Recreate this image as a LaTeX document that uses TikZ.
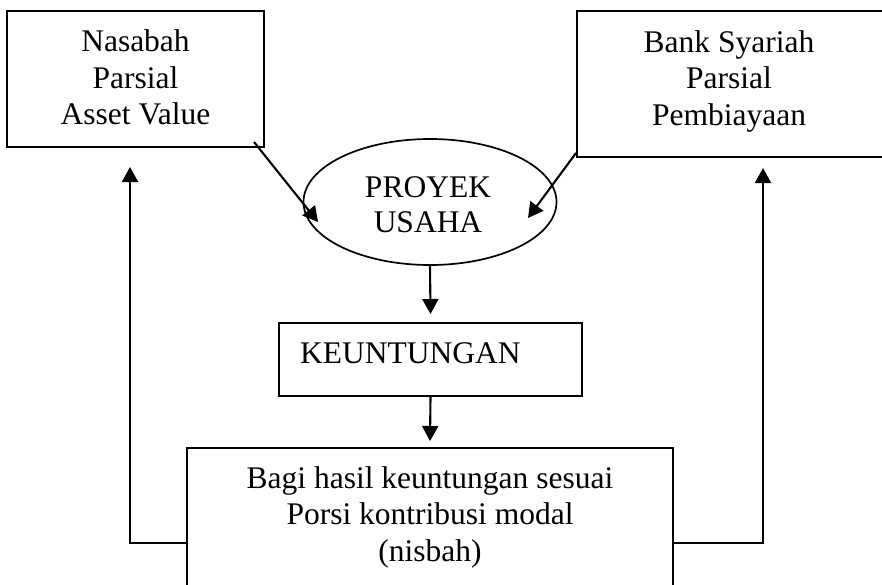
\documentclass[tikz,border=0pt]{standalone}
\usepackage{fontspec}
\setmainfont{Liberation Serif}
\usetikzlibrary{arrows.meta,shapes.geometric,calc}
\tikzset{
  boxnode/.style={draw, line width=2pt, rectangle, inner sep=0pt},
  txt/.style={align=center, inner sep=0pt, font=\fontsize{31.5}{36.5}\selectfont},
  arr/.style={line width=2.1pt, -{Triangle[length=15pt,width=16pt]}},
}
\begin{document}
\begin{tikzpicture}[x=1pt,y=-1pt]
\useasboundingbox (0,0) rectangle (882,584);
\clip (0,0) rectangle (882,584);
% boxes
\node[boxnode, minimum width=257pt, minimum height=136pt] (nas) at (135.5,79) {};
\node[txt] (nast) at (135.5,77.8) {Nasabah\\Parsial\\Asset Value};
\node[boxnode, minimum width=313pt, minimum height=146pt] (bank) at (733.5,84) {};
\node[txt] (bankt) at (729,81.2) {Bank Syariah\\Parsial\\Pembiayaan};
\node[draw, ellipse, line width=1.7pt, minimum width=253pt, minimum height=126pt, inner sep=0pt] (proj) at (430,202) {};
\node[txt, font=\fontsize{31.5}{35}\selectfont] (projt) at (428,205) {PROYEK\\USAHA};
\node[boxnode, minimum width=303pt, minimum height=73pt] (keu) at (430.5,359.5) {};
\node[txt, anchor=base west] (keut) at (300,363) {KEUNTUNGAN};
\node[boxnode, minimum width=486pt, minimum height=160pt] (bag) at (430,528) {};
\node[txt] (bagt) at (430,517) {Bagi hasil keuntungan sesuai\\Porsi kontribusi modal\\(nisbah)};
% connector points
\coordinate (a1) at (318,222);
\coordinate (a2) at (528,218);
\coordinate (l1) at (130,543);
\coordinate (l2) at (130,167);
\coordinate (r1) at (763,543);
\coordinate (r2) at (763,168);
% connectors
\draw[arr] ($(nas.south east)+(-11,-6)$) -- (a1);
\draw[arr] ($(bank.south west)+(0,-5)$) -- (a2);
\draw[arr] (proj.south) -- ([yshift=8pt]keu.north);
\draw[arr] (keu.south) -- ([yshift=6pt]bag.north);
\draw[arr] (bag.west |- l1) -- (l1) -- (l2);
\draw[arr] (bag.east |- r1) -- (r1) -- (r2);
\end{tikzpicture}
\end{document}
